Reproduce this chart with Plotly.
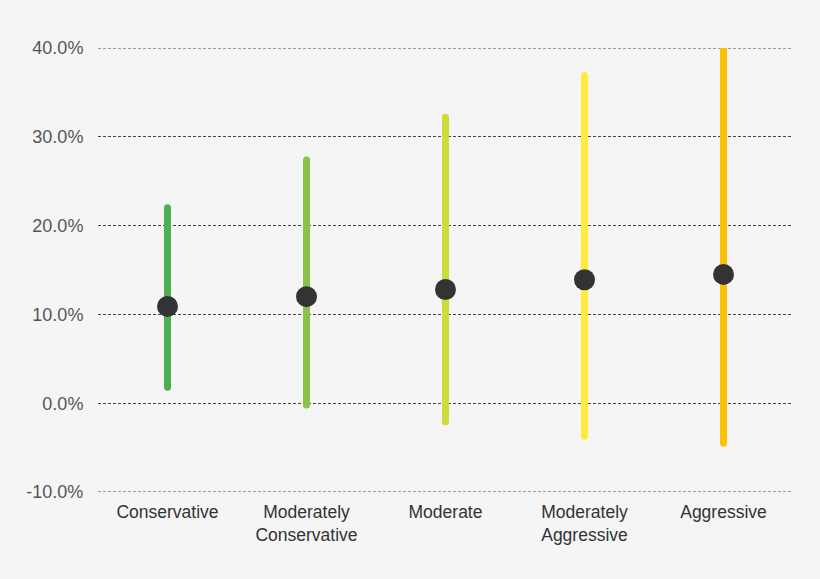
import plotly.graph_objects as go

categories = ["Conservative", "Moderately<br>Conservative", "Moderate",
              "Moderately<br>Aggressive", "Aggressive"]
low = [1.8, -0.2, -2.1, -3.7, -4.5]
high = [22.0, 27.4, 32.2, 36.9, 40.0]
mid = [10.9, 12.0, 12.8, 13.9, 14.5]
colors = ["#4caf50", "#8bc34a", "#cddc39", "#ffeb3b", "#ffc107"]
y_ticks = [-10, 0, 10, 20, 30, 40]

fig = go.Figure()

# range lines (end markers fake the round caps)
for cat, lo, hi, col in zip(categories, low, high, colors):
    fig.add_trace(go.Scatter(
        x=[cat, cat], y=[lo, hi], mode="lines+markers",
        line=dict(color=col, width=7),
        marker=dict(color=col, size=7),
        hoverinfo="skip", showlegend=False,
    ))

# mean dots
fig.add_trace(go.Scatter(
    x=categories, y=mid, mode="markers",
    marker=dict(color="#333333", size=21),
    showlegend=False,
))

# plotly skips gridlines on the range edges, so draw those two by hand
for v in (y_ticks[0], y_ticks[-1]):
    fig.add_hline(y=v, line=dict(color="#444", width=1, dash="3px,2px"), layer="below")

fig.update_layout(
    width=820, height=579,
    paper_bgcolor="#f5f5f5", plot_bgcolor="#f5f5f5",
    margin=dict(l=98, r=27, t=48, b=87),
    font=dict(family="Liberation Sans, Arial, sans-serif", size=17, color="#444"),
    xaxis=dict(
        type="category", range=[-0.5, 4.5],
        showgrid=False, zeroline=False, showline=False,
        tickfont=dict(size=17.5, color="#333"),
        ticks="outside", ticklen=4, tickcolor="rgba(0,0,0,0)",
    ),
    yaxis=dict(
        range=[-10, 40], tickvals=y_ticks,
        ticktext=[f"{v:.1f}%" for v in y_ticks],
        showgrid=True, gridcolor="#444", gridwidth=1, griddash="3px,2px",
        zeroline=False, showline=False,
        tickfont=dict(size=18, color="#555"),
        ticks="outside", ticklen=10, tickcolor="rgba(0,0,0,0)",
    ),
)

fig.write_html("out.html", config={"displayModeBar": False},
               post_script="document.body.style.margin='0';")
